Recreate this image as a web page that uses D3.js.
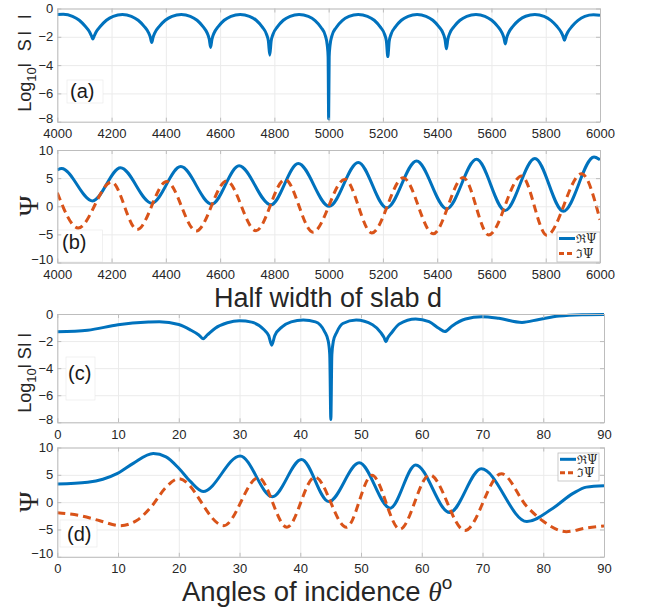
<!DOCTYPE html>
<html>
<head>
<meta charset="utf-8">
<script src="https://cdn.jsdelivr.net/npm/d3@7"></script>
<style>
  body { margin: 0; background: #fff; }
  svg { font-family: "Liberation Sans", Arial, Helvetica, sans-serif; }
  .axis text { font-size: 13px; fill: #262626; }
  .axis path, .axis line { stroke: #bdbdbd; }
  .grid line { stroke: #ebebeb; }
  .grid path { display: none; }
</style>
</head>
<body>
<div id="chart"></div>
<script>
// ---- data ----
// (a) log10|S| vs half width d
const aX = [4000, 4022, 4056, 4081, 4103, 4119, 4126, 4131, 4136, 4143, 4159, 4181, 4206,
  4240, 4273, 4298, 4320, 4336, 4343, 4348, 4353, 4360, 4376, 4398, 4423,
  4457, 4490, 4515, 4537, 4553, 4560, 4565, 4570, 4577, 4593, 4615, 4640,
  4674, 4708, 4733, 4755, 4771, 4778, 4783, 4788, 4795, 4811, 4833, 4858,
  4891, 4925, 4950, 4972, 4988, 4995, 4998, 5000, 5002, 5005, 5012, 5028, 5050, 5075,
  5109, 5143, 5168, 5190, 5206, 5213, 5218, 5223, 5230, 5246, 5268, 5293,
  5326, 5359, 5384, 5406, 5422, 5429, 5434, 5439, 5446, 5462, 5484, 5509,
  5543, 5576, 5601, 5623, 5639, 5646, 5651, 5656, 5663, 5679, 5701, 5726,
  5760, 5794, 5819, 5841, 5857, 5864, 5869, 5874, 5881, 5897, 5919, 5944,
  5976, 6000];
const aY = [-0.42, -0.41, -0.55, -0.83, -1.26, -1.66, -1.94, -2.15, -1.94, -1.66, -1.26, -0.83, -0.55,
  -0.42, -0.55, -0.83, -1.26, -1.7, -2.04, -2.4, -2.04, -1.7, -1.26, -0.83, -0.55,
  -0.42, -0.55, -0.83, -1.28, -1.76, -2.17, -2.75, -2.17, -1.76, -1.28, -0.83, -0.55,
  -0.42, -0.55, -0.83, -1.3, -1.82, -2.32, -3.3, -2.32, -1.82, -1.3, -0.83, -0.55,
  -0.42, -0.56, -0.85, -1.34, -1.93, -2.62, -3.4, -7.8, -3.4, -2.62, -1.93, -1.34, -0.85, -0.56,
  -0.42, -0.55, -0.83, -1.3, -1.82, -2.34, -3.4, -2.34, -1.82, -1.3, -0.83, -0.55,
  -0.42, -0.55, -0.83, -1.28, -1.76, -2.2, -2.85, -2.2, -1.76, -1.28, -0.83, -0.55,
  -0.42, -0.55, -0.83, -1.26, -1.72, -2.07, -2.5, -2.07, -1.72, -1.26, -0.83, -0.55,
  -0.43, -0.56, -0.84, -1.26, -1.68, -1.97, -2.25, -1.97, -1.68, -1.26, -0.84, -0.56,
  -0.45, -0.48];

// (b) Re / Im of Psi vs d (turning points)
const bReX = [4000, 4016, 4130, 4233, 4348, 4455, 4569, 4670, 4787, 4888, 5002,
  5109, 5214, 5324, 5435, 5545, 5650, 5760, 5865, 5978, 6000];
const bReY = [6.45, 6.7, 0.95, 6.85, 0.55, 7.05, 0.38, 7.2, 0.25, 7.6, 0.0,
  7.8, -0.3, 8.05, -0.45, 8.35, -0.75, 8.5, -0.9, 8.75, 8.25];
const bImX = [4000, 4077, 4200, 4294, 4403, 4512, 4624, 4732, 4839, 4942,
  5060, 5159, 5275, 5385, 5496, 5590, 5711, 5804, 5932, 6000];
const bImY = [2.4, -3.85, 4.3, -4.15, 4.4, -4.4, 4.5, -4.35, 4.75, -4.6,
  4.8, -4.75, 5.05, -4.9, 5.1, -5.1, 5.4, -5.15, 5.8, -2.4];

// (c) log10|S| vs angle
const cX = [0, 5, 10, 15, 16.8, 20, 22, 23.3, 24, 24.7, 26, 28, 30, 32, 34, 34.8, 35.3, 35.8, 37, 38.5,
  40.5, 42.5, 44, 44.6, 44.85, 45.03, 45.2, 45.45, 46, 47, 49.2, 51.9, 53.3, 53.8, 54.1, 54.4, 55, 56.3, 59, 61.2,
  62.8, 63.8, 65, 67.2, 69.9, 72.7, 76.5, 79.3, 82.6, 86.4, 90];
const cY = [-1.32, -1.2, -0.8, -0.6, -0.57, -0.78, -1.2, -1.55, -1.82, -1.55, -1.05, -0.65, -0.5, -0.6, -1.15, -1.6, -2.3, -1.6, -0.95, -0.58,
  -0.44, -0.58, -1.3, -2.0, -3.0, -7.8, -3.0, -2.0, -1.35, -0.7, -0.44, -0.8, -1.4, -1.75, -2.05, -1.75, -1.4, -0.74, -0.37, -0.57,
  -1.05, -1.3, -0.88, -0.37, -0.2, -0.32, -0.62, -0.4, -0.15, -0.05, -0.03];

// (d) Re / Im of Psi vs angle
const dReX = [0, 5, 7.5, 10, 12.5, 15.8, 17.9, 20, 21.9, 24, 30.1, 35.4, 40.2, 44.7, 49.7, 54.8,
  59, 64.6, 69.8, 77.3, 81.6, 84.9, 87.1, 90];
const dReY = [3.3, 3.65, 4.2, 5.3, 7.1, 8.9, 8.3, 6.2, 3.8, 1.95, 8.45, 1.0, 7.8, 0.1, 7.2, -1.1,
  6.8, -1.9, 6.1, -3.55, -1.1, 1.6, 2.75, 3.0];
const dImX = [0, 3.5, 7, 10.3, 13, 15.5, 17.8, 20, 27.4, 33.1, 37.8, 42.4, 47.6, 51.8, 56.4, 61.3,
  67.1, 73.1, 77.3, 80, 83.8, 87, 90];
const dImY = [-1.95, -2.4, -3.4, -4.3, -3.4, -0.8, 2.6, 4.3, -4.3, 4.5, -4.6, 4.6, -4.6, 4.9, -4.95, 5.0,
  -5.2, 5.2, -0.8, -3.5, -5.4, -4.75, -4.35];

// ticks
const xTicksD = [4000, 4200, 4400, 4600, 4800, 5000, 5200, 5400, 5600, 5800, 6000];
const xTicksAng = [0, 10, 20, 30, 40, 50, 60, 70, 80, 90];
const yTicksS = [0, -2, -4, -6, -8];
const yTicksPsi = [10, 5, 0, -5, -10];
const legendNames = ["\u211C\u03A8", "\u2111\u03A8"];

const blue = "#0072BD", orange = "#D95319";

const svg = d3.select("#chart").append("svg")
  .attr("width", 649)
  .attr("height", 613);

function drawPanel(o) {
  const x = d3.scaleLinear().domain(o.xDomain).range([o.left, o.right]);
  const y = d3.scaleLinear().domain(o.yDomain).range([o.bottom, o.top]);
  const w = o.right - o.left, h = o.bottom - o.top;
  const g = svg.append("g");

  // grid
  g.append("g").attr("class", "grid")
    .attr("transform", `translate(0,${o.bottom})`)
    .call(d3.axisBottom(x).tickValues(o.xTicks).tickSize(-h).tickFormat(""));
  g.append("g").attr("class", "grid")
    .attr("transform", `translate(${o.left},0)`)
    .call(d3.axisLeft(y).tickValues(o.yTicks).tickSize(-w).tickFormat(""));

  // panel letter box
  g.append("rect")
    .attr("x", o.box[0]).attr("y", o.box[1])
    .attr("width", o.box[2]).attr("height", o.box[3])
    .attr("fill", "#fff").attr("stroke", "#e8e8e8").attr("stroke-width", 0.6);
  g.append("text")
    .attr("x", o.letterPos[0]).attr("y", o.letterPos[1])
    .attr("font-size", "20px").attr("fill", "#1a1a1a")
    .text(o.letter);

  const clipId = "clip-" + o.letter.replace(/[()]/g, "");
  svg.append("clipPath").attr("id", clipId).append("rect")
    .attr("x", o.left).attr("y", o.top - 2).attr("width", w).attr("height", h + 4);

  o.series.forEach(s => {
    const line = d3.line()
      .x((d, i) => x(s.x[i]))
      .y(d => y(d))
      .curve(d3.curveMonotoneX);
    g.append("path")
      .datum(s.y)
      .attr("clip-path", `url(#${clipId})`)
      .attr("fill", "none")
      .attr("stroke", s.color)
      .attr("stroke-width", 3)
      .attr("stroke-dasharray", s.dash || null)
      .attr("d", line);
  });

  // axes (ticks pointing inside, box on)
  g.append("g").attr("class", "axis")
    .attr("transform", `translate(0,${o.bottom})`)
    .call(d3.axisBottom(x).tickValues(o.xTicks).tickFormat(d3.format("d"))
      .tickSizeInner(-4).tickSizeOuter(0).tickPadding(7));
  g.append("g").attr("class", "axis")
    .attr("transform", `translate(0,${o.top})`)
    .call(d3.axisTop(x).tickValues(o.xTicks).tickSizeInner(-4).tickSizeOuter(0).tickFormat(""));
  const yAx = g.append("g").attr("class", "axis")
    .attr("transform", `translate(${o.left},0)`)
    .call(d3.axisLeft(y).tickValues(o.yTicks).tickSizeInner(-4).tickSizeOuter(0).tickPadding(4));
  // lowest label sits a bit higher so it clears the x labels
  yAx.selectAll(".tick text").filter(d => d === o.yDomain[0]).attr("dy", "0.08em");
  g.append("g").attr("class", "axis")
    .attr("transform", `translate(${o.right},0)`)
    .call(d3.axisRight(y).tickValues(o.yTicks).tickSizeInner(-4).tickSizeOuter(0).tickFormat(""));

  // legend
  if (o.legend) {
    const L = o.legend;
    const lg = g.append("g");
    lg.append("rect")
      .attr("x", L.x).attr("y", L.y).attr("width", L.w).attr("height", L.h)
      .attr("fill", "#fff").attr("stroke", "#bdbdbd").attr("stroke-width", 0.8);
    o.series.forEach((s, i) => {
      const yy = L.y + L.row0 + i * L.step;
      lg.append("line")
        .attr("x1", L.x + 2).attr("x2", L.x + 18).attr("y1", yy).attr("y2", yy)
        .attr("stroke", s.color).attr("stroke-width", 3)
        .attr("stroke-dasharray", s.dash ? "5,3" : null);
      lg.append("text")
        .attr("x", L.x + 19).attr("y", yy + 4.5)
        .attr("font-family", "'DejaVu Serif', serif")
        .attr("font-size", "12px").attr("fill", "#262626")
        .text(legendNames[i]);
    });
  }
}

drawPanel({
  left: 57.3, right: 600, top: 8.5, bottom: 121.7,
  xDomain: [4000, 6000], yDomain: [-8, 0],
  xTicks: xTicksD, yTicks: yTicksS,
  series: [{ x: aX, y: aY, color: blue }],
  letter: "(a)", box: [67, 80, 36, 23], letterPos: [70, 97.5]
});

drawPanel({
  left: 57.3, right: 600, top: 150, bottom: 262.5,
  xDomain: [4000, 6000], yDomain: [-10, 10],
  xTicks: xTicksD, yTicks: yTicksPsi,
  series: [{ x: bReX, y: bReY, color: blue }, { x: bImX, y: bImY, color: orange, dash: "8,5" }],
  letter: "(b)", box: [57.3, 230, 45, 32], letterPos: [62, 248.5],
  legend: { x: 557, y: 232, w: 43, h: 30, row0: 6.5, step: 15 }
});

drawPanel({
  left: 57.3, right: 604, top: 314, bottom: 422.3,
  xDomain: [0, 90], yDomain: [-8, 0],
  xTicks: xTicksAng, yTicks: yTicksS,
  series: [{ x: cX, y: cY, color: blue }],
  letter: "(c)", box: [66, 357, 29, 43], letterPos: [68, 379.5]
});

drawPanel({
  left: 57.3, right: 604, top: 447.5, bottom: 556.8,
  xDomain: [0, 90], yDomain: [-10, 10],
  xTicks: xTicksAng, yTicks: yTicksPsi,
  series: [{ x: dReX, y: dReY, color: blue }, { x: dImX, y: dImY, color: orange, dash: "8,5" }],
  letter: "(d)", box: [60, 520, 37, 27], letterPos: [67, 540.5],
  legend: { x: 558, y: 453, w: 41, h: 28, row0: 6.3, step: 13.4 }
});

// y labels
function logLabel(cx, cy, spacing) {
  const t = svg.append("text")
    .attr("transform", `translate(${cx},${cy}) rotate(-90)`)
    .attr("text-anchor", "middle")
    .attr("font-size", "18px").attr("fill", "#262626");
  t.append("tspan").text("Log");
  t.append("tspan").attr("font-size", "13px").attr("dy", 5).text("10");
  t.append("tspan").attr("dy", -5).attr("letter-spacing", spacing).text("l SI l");
}
logLabel(31, 61.5, "3.5px");
logLabel(31, 373, "0px");

function psiLabel(cx, cy) {
  svg.append("text")
    .attr("transform", `translate(${cx},${cy}) rotate(-90)`)
    .attr("text-anchor", "middle")
    .attr("font-family", "'Liberation Serif', 'Times New Roman', serif")
    .attr("font-size", "28px").attr("fill", "#262626")
    .text("\u03A8");
}
psiLabel(38, 206);
psiLabel(38, 502);

// x titles
svg.append("text")
  .attr("x", 328).attr("y", 306.5)
  .attr("text-anchor", "middle")
  .attr("font-size", "27px").attr("fill", "#262626")
  .text("Half width of slab d");

const t2 = svg.append("text")
  .attr("x", 182).attr("y", 601)
  .attr("font-size", "27.5px").attr("fill", "#262626");
t2.append("tspan").text("Angles of incidence ");
t2.append("tspan")
  .attr("font-family", "'Liberation Serif', 'Times New Roman', serif")
  .attr("font-style", "italic").text("\u03B8");
t2.append("tspan").attr("font-size", "19px").attr("dy", -12).text("o");
</script>
</body>
</html>
